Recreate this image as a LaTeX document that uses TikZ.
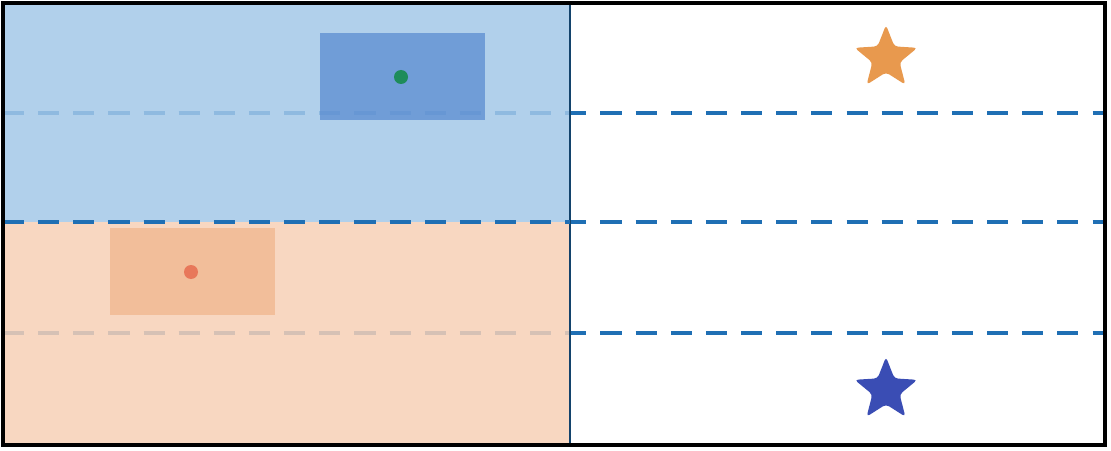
\documentclass[tikz,border=0pt]{standalone}
\usetikzlibrary{shapes.geometric}
\definecolor{lightblue}{HTML}{A3C8E8}
\definecolor{midblue}{HTML}{5A8CD0}
\definecolor{lightorange}{HTML}{F7D0B6}
\definecolor{midorange}{HTML}{F0B48A}
\definecolor{dotgreen}{HTML}{1E8C5A}
\definecolor{dotred}{HTML}{E8785A}
\definecolor{starorange}{HTML}{E8994E}
\definecolor{starblue}{HTML}{3A4DB4}
\definecolor{dashblue}{HTML}{1F6FB4}
\tikzset{
  splitline/.style={dash pattern=on 6pt off 4pt,dashblue,line width=1pt},
  starmark/.style={star,star points=5,star point ratio=2.3,minimum size=0.66cm,inner sep=0pt,rounded corners=1pt},
  dotmark/.style={circle,inner sep=0pt,minimum size=0.14cm}
}
\begin{document}
\begin{tikzpicture}
    \useasboundingbox (0,0) rectangle (11.11,4.5);
    % dashed split lines
    \foreach \y in {3.37,2.28,1.17}
        \draw[splitline] (0.03,\y) -- (11.05,\y);

    % left half, two regions
    \fill[lightblue,opacity=0.85] (0.03,2.28) rectangle (5.7,4.47);
    \fill[lightorange,opacity=0.85] (0.03,0.05) rectangle (5.7,2.28);
    \draw[dashblue!60!black,line width=0.6pt] (0.03,0.05) rectangle (5.7,4.47);
    \draw[splitline] (0.03,2.28) -- (5.7,2.28);

    % inner boxes with dots
    \fill[midblue,opacity=0.75] (3.2,3.3) rectangle (4.85,4.17);
    \node[dotmark,fill=dotgreen] (gdot) at (4.01,3.73) {};
    \fill[midorange,opacity=0.7] (1.1,1.35) rectangle (2.75,2.22);
    \node[dotmark,fill=dotred] (rdot) at (1.91,1.78) {};

    % outer frame
    \draw[black,line width=1.3pt] (0.03,0.05) rectangle (11.05,4.47);

    % stars
    \node[starmark,fill=starorange] (ostar) at (8.86,3.92) {};
    \node[starmark,fill=starblue] (bstar) at (8.86,0.6) {};
\end{tikzpicture}
\end{document}
